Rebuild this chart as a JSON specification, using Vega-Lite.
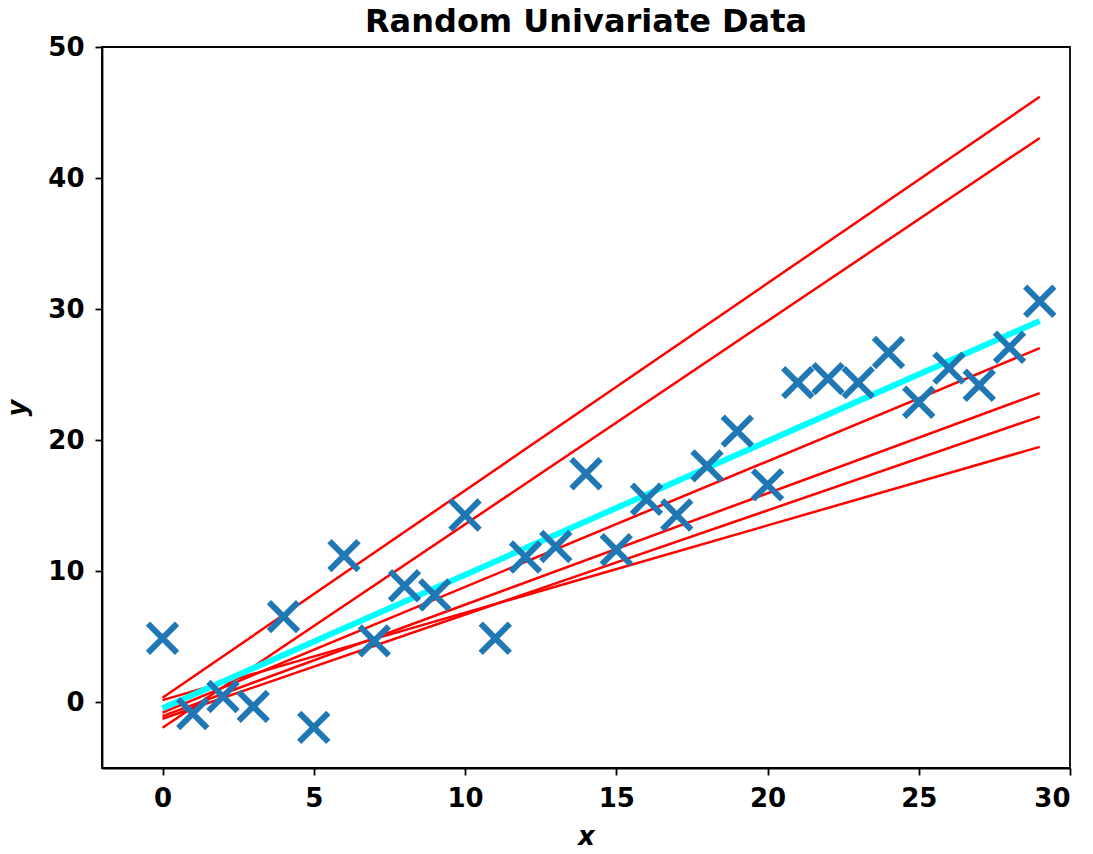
{
  "$schema": "https://vega.github.io/schema/vega-lite/v6.json",
  "width": 968,
  "height": 721,
  "autosize": {"type": "none"},
  "padding": {"left": 102, "top": 47, "right": 23, "bottom": 86},
  "background": "white",
  "title": {"text": "Random Univariate Data", "font": "DejaVu Sans", "fontSize": 32, "fontWeight": "bold", "color": "black", "anchor": "middle", "offset": 14, "baseline": "alphabetic", "dy": 44},
  "config": {
    "view": {"stroke": "black", "strokeWidth": 1.8},
    "axis": {
      "grid": false,
      "domainColor": "black",
      "domainWidth": 1.8,
      "tickColor": "black",
      "tickWidth": 1.8,
      "tickSize": 7,
      "labelFont": "DejaVu Sans",
      "labelFontWeight": "bold",
      "labelFontSize": 26,
      "labelColor": "black",
      "labelPadding": 10,
      "titleFont": "DejaVu Sans",
      "titleFontWeight": "bold",
      "titleFontStyle": "italic",
      "titleFontSize": 26,
      "titleColor": "black"
    }
  },
  "datasets": {
    "pts": [
      {"x": 0, "y": 4.9}, {"x": 1, "y": -0.85}, {"x": 2, "y": 0.45}, {"x": 3, "y": -0.3},
      {"x": 4, "y": 6.55}, {"x": 5, "y": -1.9}, {"x": 6, "y": 11.2}, {"x": 7, "y": 4.7},
      {"x": 8, "y": 8.9}, {"x": 9, "y": 8.2}, {"x": 10, "y": 14.3}, {"x": 11, "y": 4.9},
      {"x": 12, "y": 11.1}, {"x": 13, "y": 11.9}, {"x": 14, "y": 17.45}, {"x": 15, "y": 11.65},
      {"x": 16, "y": 15.5}, {"x": 17, "y": 14.3}, {"x": 18, "y": 18.05}, {"x": 19, "y": 20.7},
      {"x": 20, "y": 16.6}, {"x": 21, "y": 24.4}, {"x": 22, "y": 24.7}, {"x": 23, "y": 24.4},
      {"x": 24, "y": 26.7}, {"x": 25, "y": 22.9}, {"x": 26, "y": 25.5}, {"x": 27, "y": 24.2},
      {"x": 28, "y": 27.1}, {"x": 29, "y": 30.6}
    ],
    "lines": [
      {"id": "a", "x": 0, "y": 0.36}, {"id": "a", "x": 29, "y": 46.2},
      {"id": "b", "x": 0, "y": -1.93}, {"id": "b", "x": 29, "y": 43.06},
      {"id": "c", "x": 0, "y": 0.18}, {"id": "c", "x": 29, "y": 19.5},
      {"id": "d", "x": 0, "y": -0.78}, {"id": "d", "x": 29, "y": 27.03},
      {"id": "e", "x": 0, "y": -1.04}, {"id": "e", "x": 29, "y": 23.6},
      {"id": "f", "x": 0, "y": -1.24}, {"id": "f", "x": 29, "y": 21.8}
    ],
    "fit": [
      {"x": 0, "y": -0.45}, {"x": 29, "y": 29.1}
    ]
  },
  "encoding": {
    "x": {"field": "x", "type": "quantitative", "scale": {"domain": [-2, 30], "nice": false, "zero": false}, "axis": {"values": [0, 5, 10, 15, 20, 25, 30], "title": "x", "titlePadding": 12}},
    "y": {"field": "y", "type": "quantitative", "scale": {"domain": [-5, 50], "nice": false, "zero": false}, "axis": {"values": [0, 10, 20, 30, 40, 50], "title": "y", "titlePadding": 17, "labelPadding": 11}}
  },
  "layer": [
    {
      "data": {"name": "lines"},
      "mark": {"type": "line", "color": "red", "strokeWidth": 2.5},
      "encoding": {"detail": {"field": "id"}}
    },
    {
      "data": {"name": "fit"},
      "mark": {"type": "line", "color": "#00ffff", "strokeWidth": 6},
      "encoding": {}
    },
    {
      "data": {"name": "pts"},
      "mark": {"type": "point", "shape": "M-1,-1L1,1M1,-1L-1,1", "filled": false, "stroke": "#1f77b4", "strokeWidth": 6, "size": 850, "opacity": 1}
    }
  ]
}
